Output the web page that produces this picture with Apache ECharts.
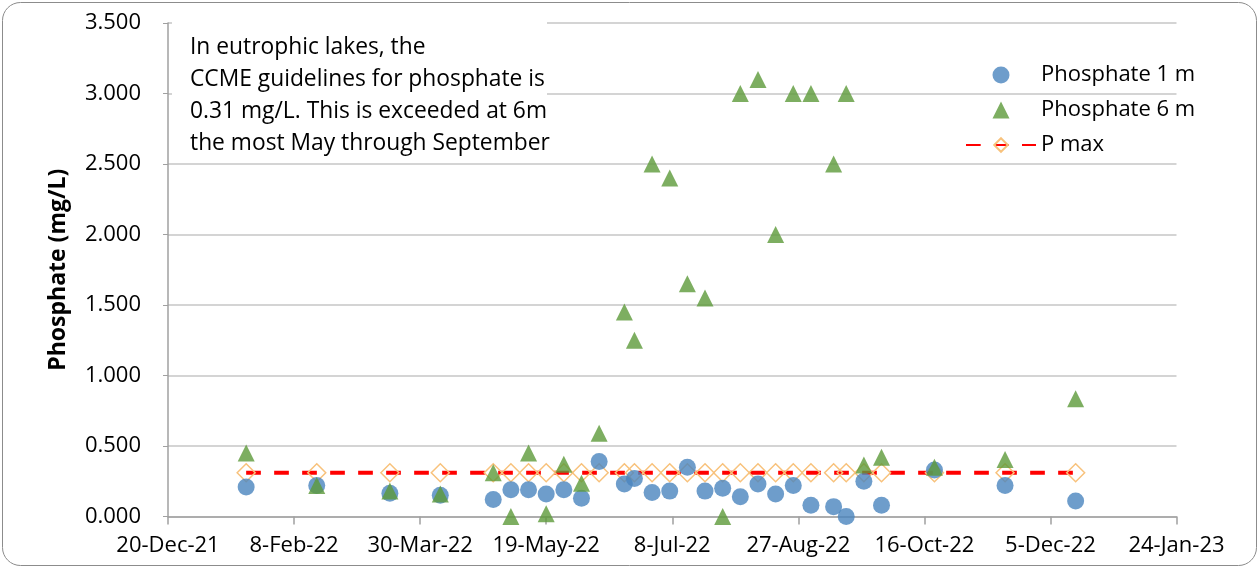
<!DOCTYPE html>
<html><head><meta charset="utf-8">
<script src="https://cdn.jsdelivr.net/npm/echarts@6/dist/echarts.min.js"></script>
<style>html,body{margin:0;padding:0;background:#fff}#c{width:1260px;height:570px}</style>
</head><body><div id="c"></div>
<script>
// ---- data ----
const sampleDates = ['2022-01-20','2022-02-17','2022-03-18','2022-04-07','2022-04-28','2022-05-05','2022-05-12','2022-05-19','2022-05-26','2022-06-02','2022-06-09','2022-06-19','2022-06-23','2022-06-30','2022-07-07','2022-07-14','2022-07-21','2022-07-28','2022-08-04','2022-08-11','2022-08-18','2022-08-25','2022-09-01','2022-09-10','2022-09-15','2022-09-22','2022-09-29','2022-10-20','2022-11-17','2022-12-15'];
const phosphate1m = [0.21,0.22,0.165,0.15,0.12,0.19,0.19,0.16,0.19,0.13,0.39,0.23,0.27,0.17,0.18,0.35,0.18,0.20,0.14,0.23,0.16,0.22,0.08,0.07,0.0,0.25,0.08,0.33,0.22,0.11];
const phosphate6m = [0.45,0.22,0.18,0.16,0.31,0.0,0.45,0.02,0.37,0.235,0.59,1.45,1.25,2.5,2.4,1.65,1.55,0.0,3.0,3.1,2.0,3.0,3.0,2.5,3.0,0.365,0.42,0.35,0.405,0.835];
const pMax = [0.31,0.31,0.31,0.31,0.31,0.31,0.31,0.31,0.31,0.31,0.31,0.31,0.31,0.31,0.31,0.31,0.31,0.31,0.31,0.31,0.31,0.31,0.31,0.31,0.31,0.31,0.31,0.31,0.31,0.31];
const seriesNames = ['Phosphate 1 m','Phosphate 6 m','P max'];
const xAxisStart = '2021-12-20';   // first tick label 20-Dec-21
const xAxisEnd = '2023-01-24';     // last tick label 24-Jan-23
const xTickDays = 50;
const yMin = 0, yMax = 3.5, yStep = 0.5;
const noteText = ['In eutrophic lakes, the','CCME guidelines for phosphate is','0.31 mg/L. This is exceeded at 6m','the most May through September'];
const yAxisTitle = 'Phosphate (mg/L)';

// ---- helpers ----
const DAY = 86400000;
const base = Date.parse(xAxisStart);
const dayOff = d => (Date.parse(d) - base) / DAY;
const MONTHS = ['Jan','Feb','Mar','Apr','May','Jun','Jul','Aug','Sep','Oct','Nov','Dec'];
const fmtDate = off => { const t = new Date(base + off * DAY); return t.getUTCDate() + '-' + MONTHS[t.getUTCMonth()] + '-' + String(t.getUTCFullYear()).slice(2); };
const pairs = vals => sampleDates.map((d, i) => [dayOff(d), vals[i]]);

const FONT = "'Open Sans', 'Noto Sans', sans-serif";
// legend triangle icon padded to the 70x17 legend box so it is not stretched
const triIcon = 'path://M0,0M70,17M26.5,17L35,0L43.5,17Z';
const chart = echarts.init(document.getElementById('c'), null, {renderer: 'canvas'});
chart.setOption({
  animation: false,
  backgroundColor: '#fff',
  grid: {left: 168, right: 83.5, top: 23, bottom: 53.5},
  xAxis: {
    type: 'value', min: 0, max: dayOff(xAxisEnd), interval: xTickDays,
    axisLine: {show: true, lineStyle: {color: '#a0a0a0', width: 1.5}},
    axisTick: {show: true, length: 8, lineStyle: {color: '#a0a0a0', width: 1.5}},
    splitLine: {show: false},
    axisLabel: {formatter: v => fmtDate(v), fontSize: 22, color: '#000', fontFamily: FONT, margin: 18}
  },
  yAxis: {
    type: 'value', min: yMin, max: yMax, interval: yStep,
    name: yAxisTitle, nameLocation: 'middle', nameGap: 98,
    nameTextStyle: {fontSize: 23, fontWeight: 'bold', color: '#000', fontFamily: FONT},
    axisLine: {show: true, lineStyle: {color: '#a0a0a0', width: 1.5}},
    axisTick: {show: true, length: 5, lineStyle: {color: '#a0a0a0'}},
    splitLine: {show: true, lineStyle: {color: '#c6c6c6', width: 1.5}},
    axisLabel: {formatter: v => v.toFixed(3), fontSize: 22, color: '#000', fontFamily: FONT, margin: 27}
  },
  legend: {
    data: [seriesNames[0], {name: seriesNames[1], icon: triIcon}, seriesNames[2]],
    orient: 'vertical', left: 960, top: 59,
    itemWidth: 70, itemHeight: 17, itemGap: 13, selectedMode: false,
    textStyle: {fontSize: 22, color: '#000', fontFamily: FONT}
  },
  series: [
    {
      name: seriesNames[2], type: 'line', data: pairs(pMax), z: 2,
      symbol: 'diamond', symbolSize: 18, showAllSymbol: true,
      lineStyle: {color: '#ff0000', width: 4, type: [14.7, 13.3]},
      itemStyle: {color: 'rgba(255,255,255,0)', borderColor: '#F8C27C', borderWidth: 1.5},
      emphasis: {disabled: true}
    },
    {
      name: seriesNames[0], type: 'scatter', data: pairs(phosphate1m), z: 3,
      symbol: 'circle', symbolSize: 17, itemStyle: {color: '#4A84BE'},
      emphasis: {disabled: true}
    },
    {
      name: seriesNames[1], type: 'scatter', data: pairs(phosphate6m), z: 4,
      symbol: 'triangle', symbolSize: 17, itemStyle: {color: '#5C9A3A'},
      emphasis: {disabled: true}
    }
  ],
  graphic: [
    {type: 'rect', z: 100, silent: true, shape: {x: 2.5, y: 2.5, width: 1254, height: 563, r: 18},
     style: {fill: 'none', stroke: '#8c8c8c', lineWidth: 1}},
    {type: 'rect', z: 100, silent: true, shape: {x: 172, y: 15, width: 375, height: 144},
     style: {fill: '#fff'}},
    {type: 'text', z: 101, silent: true, x: 190, y: 32,
     style: {text: noteText.join('\n'), fontSize: 22.8, fontFamily: FONT, fill: '#000', lineHeight: 31.8}}
  ]
});
</script></body></html>
